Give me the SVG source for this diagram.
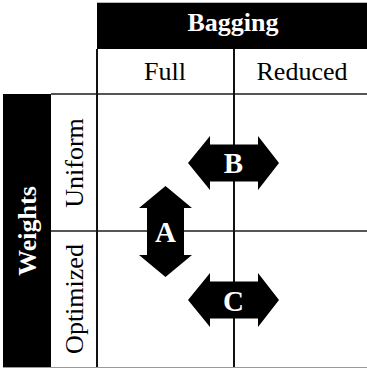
<svg xmlns="http://www.w3.org/2000/svg" width="367" height="368" viewBox="0 0 367 368">
<style>
  .t { font-family: "Liberation Serif", "Times New Roman", serif; font-size: 26px; fill: #000; text-anchor: middle; }
  .tb { font-family: "Liberation Serif", "Times New Roman", serif; font-size: 26px; font-weight: bold; fill: #fff; text-anchor: middle; }
  .lbl { font-family: "Liberation Serif", "Times New Roman", serif; font-size: 29px; font-weight: bold; fill: #fff; text-anchor: middle; }
  .arrow { fill: #000; }
  .gv { stroke: #111; stroke-width: 2; fill: none; }
  .gh { stroke: #555; stroke-width: 2; fill: none; }
</style>
<rect width="367" height="368" fill="#fff"/>
<g id="grid">
  <line x1="97" y1="2.5" x2="367" y2="2.5" stroke="#bbb" stroke-width="1"/>
  <line x1="3" y1="367.5" x2="367" y2="367.5" stroke="#999" stroke-width="1"/>
  <line class="gh" x1="51" y1="94" x2="367" y2="94"/>
  <line class="gh" x1="51" y1="231" x2="367" y2="231"/>
  <line class="gv" x1="97" y1="49" x2="97" y2="367"/>
  <line class="gv" x1="234" y1="49" x2="234" y2="367"/>
</g>
<g id="bagging">
  <rect x="97" y="3" width="270" height="46" fill="#000"/>
  <text class="tb" x="233" y="31">Bagging</text>
</g>
<g id="full"><text class="t" x="165" y="80">Full</text></g>
<g id="reduced"><text class="t" x="302" y="80">Reduced</text></g>
<g id="weights">
  <rect x="3" y="94" width="48" height="273" fill="#000"/>
  <text class="tb" transform="translate(36 231) rotate(-90)">Weights</text>
</g>
<g id="uniform"><text class="t" transform="translate(83 163) rotate(-90)">Uniform</text></g>
<g id="optimized"><text class="t" transform="translate(83 299) rotate(-90)">Optimized</text></g>
<g id="connectors"></g>
<g id="arrowB">
  <polygon class="arrow" points="188,163 210,136 210,144.5 258,144.5 258,136 279,163 258,190 258,181.5 210,181.5 210,190"/>
  <text class="lbl" x="233.5" y="173">B</text>
</g>
<g id="arrowA">
  <polygon class="arrow" points="165.5,186 192,208 184,208 184,255 192,255 165.5,277 139,255 147,255 147,208 139,208"/>
  <text class="lbl" x="165.5" y="242">A</text>
</g>
<g id="arrowC">
  <polygon class="arrow" points="188,300 210,273 210,281.5 258,281.5 258,273 279,300 258,327 258,318.5 210,318.5 210,327"/>
  <text class="lbl" x="233.5" y="311">C</text>
</g>
</svg>
